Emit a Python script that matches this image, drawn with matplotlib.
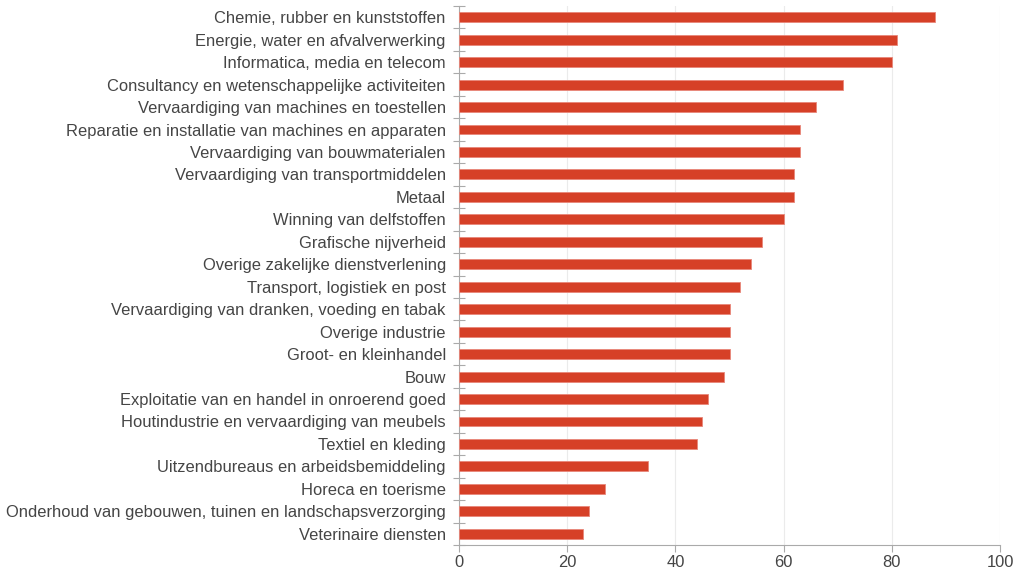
import matplotlib
matplotlib.use("Agg")
import matplotlib.pyplot as plt
import numpy as np

categories = [
    "Chemie, rubber en kunststoffen",
    "Energie, water en afvalverwerking",
    "Informatica, media en telecom",
    "Consultancy en wetenschappelijke activiteiten",
    "Vervaardiging van machines en toestellen",
    "Reparatie en installatie van machines en apparaten",
    "Vervaardiging van bouwmaterialen",
    "Vervaardiging van transportmiddelen",
    "Metaal",
    "Winning van delfstoffen",
    "Grafische nijverheid",
    "Overige zakelijke dienstverlening",
    "Transport, logistiek en post",
    "Vervaardiging van dranken, voeding en tabak",
    "Overige industrie",
    "Groot- en kleinhandel",
    "Bouw",
    "Exploitatie van en handel in onroerend goed",
    "Houtindustrie en vervaardiging van meubels",
    "Textiel en kleding",
    "Uitzendbureaus en arbeidsbemiddeling",
    "Horeca en toerisme",
    "Onderhoud van gebouwen, tuinen en landschapsverzorging",
    "Veterinaire diensten",
]
values = [88, 81, 80, 71, 66, 63, 63, 62, 62, 60, 56, 54, 52, 50, 50, 50, 49, 46, 45, 44, 35, 27, 24, 23]
xticks = [0, 20, 40, 60, 80, 100]

plt.rcParams['font.family'] = ['Liberation Sans', 'DejaVu Sans']

fig = plt.figure(figsize=(10.18, 5.71), dpi=100)
ax = fig.add_axes([459/1018, 1-545/571, (1000-459)/1018, (545-6)/571])

n = len(categories)
y = np.arange(n)
ax.barh(y, values, height=0.44, color="#D64027", edgecolor="#E8877A", linewidth=0.6, zorder=3)

ax.set_ylim(n - 0.5, -0.5)
ax.set_xlim(0, 100)
ax.set_xticks(xticks)
ax.set_xticklabels([str(t) for t in xticks])
ax.set_yticks(y)
ax.set_yticklabels(categories)
ax.set_yticks(np.arange(-0.5, n, 1.0), minor=True)

ax.tick_params(axis='y', which='major', length=0, pad=9.5, labelsize=11.9, labelcolor="#454545")
ax.tick_params(axis='y', which='minor', length=9, direction='inout', color="#AAAAAA", width=0.8)
ax.tick_params(axis='x', which='major', length=5, direction='out', color="#AAAAAA", width=0.8,
               labelsize=11.9, labelcolor="#454545", pad=2.5)

ax.grid(axis='x', color="#EBEBEB", linewidth=0.8, zorder=0)
for s in ['top', 'right']:
    ax.spines[s].set_visible(False)
ax.spines['left'].set_color("#AAAAAA")
ax.spines['bottom'].set_color("#AAAAAA")
ax.spines['left'].set_linewidth(0.8)
ax.spines['bottom'].set_linewidth(0.8)

fig.savefig("out.png", dpi=100)
